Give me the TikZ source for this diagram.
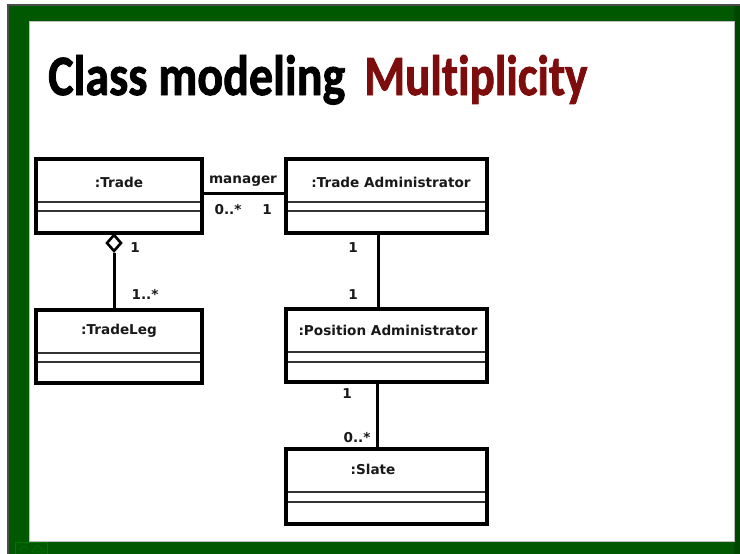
\documentclass[tikz,border=0pt]{standalone}
\usepackage{fontspec}
\usetikzlibrary{calc,shapes.geometric}
\setmainfont{DejaVu Sans}
\newfontfamily\titlefont[FakeBold=1.6,Ligatures=NoCommon]{Carlito}
\newfontfamily\umlfont{DejaVu Sans}

\definecolor{framegreen}{RGB}{0,88,0}
\definecolor{framedark}{RGB}{0,70,0}
\definecolor{titlered}{RGB}{125,12,12}

\tikzset{
  classbox/.style={draw=black, line width=3.2pt, fill=white, rectangle,
    inner sep=0pt, outer sep=0pt, anchor=north west},
  divider/.style={draw=black!80, line width=1.4pt},
  cname/.style={font=\umlfont\bfseries\fontsize{13.6}{15}\selectfont, inner sep=0pt, text=black!90},
  mult/.style={font=\umlfont\bfseries\fontsize{13.6}{15}\selectfont, inner sep=0pt, text=black!90},
  assoc/.style={draw=black, line width=3pt},
  aggd/.style={diamond, draw=black, line width=2.6pt, fill=white, inner sep=0pt,
    minimum width=15pt, minimum height=17pt, aspect=0.88},
}

\begin{document}
\begin{tikzpicture}[x=1pt,y=-1pt]
\useasboundingbox (0,0) rectangle (740,554);
\fill[white] (0,0) rectangle (740,554);

% slide frame
\fill[framegreen] (8,5) rectangle (740,554);
\fill[framedark] (734,5) rectangle (740,554);
\draw[black!70, line width=1.5pt] (8,554) -- (8,5) -- (740,5);
\fill[white] (29,21) rectangle (734,541);
\draw[black!25, line width=0.8pt] (29,21) rectangle (734,541);

% slide navigation button
\draw[green!45!black, line width=0.6pt] (15,542) rectangle (47,554);
\draw[green!45!black, line width=0.6pt] (20,552) .. controls (20,545) and (28,545) .. (27,549);
\draw[green!45!black, line width=0.6pt] (31,552) -- (38,545) -- (45,552) -- cycle;

% title
\node[anchor=base west, inner sep=0pt] (title1) at (48,95)
  {\resizebox{297pt}{40pt}{\titlefont\bfseries Class modeling}};
\node[anchor=base west, inner sep=0pt, text=titlered] (title2) at (364,95)
  {\resizebox{223pt}{40pt}{\titlefont\bfseries Multiplicity}};

% classes
\node[classbox, minimum width=166pt, minimum height=74pt] (trade) at (36,159) {};
\node[classbox, minimum width=201pt, minimum height=74pt] (ta) at (286,159) {};
\node[classbox, minimum width=166pt, minimum height=73pt] (leg) at (36,310) {};
\node[classbox, minimum width=201pt, minimum height=73pt] (pa) at (286,309) {};
\node[classbox, minimum width=201pt, minimum height=75pt] (slate) at (286,449) {};

\foreach \c/\a/\b in {trade/43/52, ta/43/52, leg/43/52, pa/43/53, slate/43/53}{
  \draw[divider] ($(\c.north west)+(1.6,\a)$) -- ($(\c.north east)+(-1.6,\a)$);
  \draw[divider] ($(\c.north west)+(1.6,\b)$) -- ($(\c.north east)+(-1.6,\b)$);
}

\node[cname] (tradeT) at (119,182) {:Trade};
\node[cname] (taT) at (391,182) {:Trade Administrator};
\node[cname] (legT) at (119,331) {:TradeLeg};
\node[cname] (paT) at (388,330) {:Position Administrator};
\node[cname] (slateT) at (373,469) {:Slate};

% Trade -- Trade Administrator
\draw[assoc] ([yshift=3pt]trade.east) -- ([yshift=3pt]ta.west);
\node[mult] (mgr) at (243,181) {manager};
\node[mult] (m1) at (228,210) {0..*};
\node[mult] (m2) at (267,210) {1};

% Trade <>-- TradeLeg
\node[aggd] (agg) at (114,243) {};
\draw[assoc] (agg.south) -- (agg.south |- leg.north);
\node[mult] (m3) at (135,248) {1};
\node[mult] (m4) at (145,294) {1..*};

% Trade Administrator -- Position Administrator
\draw[assoc] ([xshift=-8.5pt]ta.south) -- ([xshift=-8.5pt]ta.south |- pa.north);
\node[mult] (m5) at (353,248) {1};
\node[mult] (m6) at (353,295) {1};

% Position Administrator -- Slate
\draw[assoc] ([xshift=-9.5pt]pa.south) -- ([xshift=-9.5pt]pa.south |- slate.north);
\node[mult] (m7) at (347,394) {1};
\node[mult] (m8) at (357,438) {0..*};
\end{tikzpicture}
\end{document}
